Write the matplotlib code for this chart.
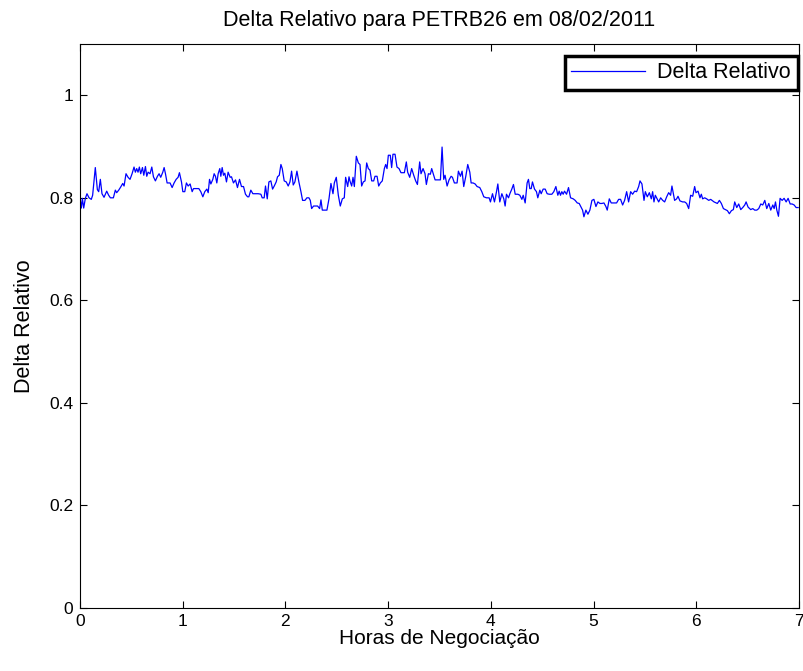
import matplotlib
matplotlib.use("Agg")
import matplotlib.pyplot as plt

plt.rcParams['font.family'] = ['Liberation Sans', 'DejaVu Sans']

hours = [0.000, 0.013, 0.023, 0.036, 0.052, 0.068, 0.088, 0.110, 0.123, 0.149, 0.169, 0.182, 0.198,
         0.214, 0.234, 0.260, 0.279, 0.296, 0.325, 0.344, 0.357, 0.377, 0.396, 0.416, 0.429,
         0.448, 0.468, 0.487, 0.507, 0.526, 0.539, 0.552, 0.565, 0.578, 0.591, 0.608, 0.621,
         0.637, 0.650, 0.663, 0.682, 0.699, 0.715, 0.734, 0.754, 0.770, 0.786, 0.806, 0.819,
         0.832, 0.848,
         0.877, 0.897, 0.916, 0.936, 0.955, 0.968, 0.988, 1.001, 1.020, 1.036, 1.053, 1.072,
         1.092, 1.105, 1.124, 1.157, 1.176, 1.196, 1.215, 1.235, 1.248, 1.261, 1.274, 1.293,
         1.306, 1.319, 1.332, 1.345, 1.361, 1.371, 1.384, 1.397, 1.410, 1.426, 1.442, 1.462,
         1.475, 1.494, 1.514, 1.533, 1.553, 1.572, 1.592, 1.611, 1.631, 1.644, 1.663, 1.683,
         1.735,
         1.761, 1.774, 1.793, 1.806, 1.823, 1.839, 1.858, 1.875, 1.891, 1.910, 1.923, 1.940,
         1.956, 1.969, 1.988, 2.008, 2.027, 2.044, 2.060, 2.076, 2.092, 2.112, 2.131, 2.151,
         2.167, 2.190, 2.209, 2.229, 2.242, 2.255, 2.274, 2.294, 2.313, 2.333, 2.346, 2.359,
         2.385, 2.404, 2.424, 2.443, 2.463, 2.476, 2.495, 2.515, 2.534, 2.554, 2.573, 2.586,
         2.606, 2.619,
         2.628, 2.645, 2.658, 2.671, 2.690, 2.710, 2.726, 2.742, 2.758, 2.775, 2.791, 2.807,
         2.823, 2.840, 2.859, 2.872, 2.892, 2.908, 2.924, 2.943, 2.963, 2.976, 2.989, 3.002,
         3.021, 3.034, 3.047, 3.067, 3.086, 3.106, 3.125, 3.158, 3.177, 3.190, 3.210, 3.229,
         3.249, 3.268, 3.285, 3.307, 3.320, 3.340, 3.359, 3.372, 3.392, 3.411, 3.424, 3.444,
         3.457, 3.496,
         3.509, 3.525, 3.541, 3.554, 3.574, 3.593, 3.613, 3.626, 3.645, 3.671, 3.684, 3.704,
         3.720, 3.736, 3.756, 3.775, 3.795, 3.808, 3.827, 3.847, 3.866, 3.892, 3.912, 3.931,
         3.957, 3.983, 3.996, 4.016, 4.035, 4.055, 4.068, 4.087, 4.107, 4.126, 4.139, 4.152,
         4.172, 4.185, 4.204, 4.220, 4.237, 4.263, 4.282, 4.302, 4.315, 4.334, 4.353, 4.366,
         4.379,
         4.393, 4.405, 4.425, 4.444, 4.457, 4.477, 4.490, 4.509, 4.529, 4.548, 4.568, 4.594,
         4.613, 4.633, 4.652, 4.665, 4.678, 4.691, 4.704, 4.717, 4.737, 4.756, 4.776, 4.802,
         4.821, 4.841, 4.860, 4.873, 4.893, 4.906, 4.925, 4.945, 4.964, 4.984, 5.003, 5.023,
         5.042, 5.062, 5.081, 5.101, 5.120, 5.133, 5.153, 5.172, 5.198, 5.224, 5.244, 5.263,
         5.283, 5.302, 5.322, 5.341, 5.361, 5.380, 5.400, 5.419, 5.439, 5.452, 5.471, 5.491,
         5.504, 5.523, 5.543, 5.562, 5.575, 5.588, 5.601, 5.621, 5.634, 5.653, 5.673, 5.692,
         5.712, 5.731, 5.750, 5.763, 5.777, 5.789, 5.809, 5.822, 5.841, 5.867, 5.887, 5.906,
         5.926, 5.945, 5.965, 5.984, 5.997, 6.017, 6.036, 6.049, 6.062, 6.082, 6.101, 6.121,
         6.140,
         6.173, 6.205, 6.225, 6.244, 6.264, 6.283, 6.303, 6.322, 6.342, 6.361, 6.374, 6.394,
         6.413, 6.433, 6.452, 6.472, 6.485, 6.504, 6.530, 6.550, 6.569, 6.589, 6.608, 6.628,
         6.647, 6.667, 6.686, 6.706, 6.725, 6.745, 6.758, 6.771, 6.784, 6.800, 6.816, 6.836,
         6.855, 6.875, 6.894, 6.914, 6.933, 6.953, 6.972, 6.992]

delta = [0.800, 0.780, 0.799, 0.780, 0.799, 0.808, 0.800, 0.797, 0.805, 0.859, 0.816, 0.812, 0.836,
         0.808, 0.801, 0.813, 0.805, 0.800, 0.800, 0.815, 0.810, 0.815, 0.821, 0.828, 0.823,
         0.847, 0.840, 0.836, 0.847, 0.860, 0.850, 0.857, 0.850, 0.860, 0.847, 0.859, 0.844,
         0.861, 0.842, 0.850, 0.847, 0.860, 0.841, 0.833, 0.842, 0.847, 0.840, 0.850, 0.859,
         0.847, 0.829,
         0.829, 0.820, 0.829, 0.836, 0.840, 0.849, 0.831, 0.812, 0.812, 0.829, 0.823, 0.827,
         0.812, 0.818, 0.818, 0.818, 0.812, 0.802, 0.812, 0.817, 0.810, 0.836, 0.827, 0.836,
         0.847, 0.842, 0.829, 0.847, 0.857, 0.842, 0.859, 0.844, 0.848, 0.831, 0.850, 0.840,
         0.841, 0.829, 0.835, 0.820, 0.836, 0.822, 0.822, 0.807, 0.802, 0.802, 0.815, 0.808,
         0.808,
         0.807, 0.800, 0.800, 0.823, 0.798, 0.831, 0.833, 0.817, 0.823, 0.831, 0.841, 0.844,
         0.865, 0.857, 0.833, 0.831, 0.823, 0.831, 0.852, 0.825, 0.831, 0.852, 0.831, 0.812,
         0.795, 0.795, 0.800, 0.800, 0.795, 0.779, 0.784, 0.784, 0.784, 0.779, 0.796, 0.776,
         0.776, 0.776, 0.798, 0.828, 0.808, 0.829, 0.840, 0.805, 0.784, 0.798, 0.800, 0.840,
         0.822, 0.841,
         0.833, 0.823, 0.840, 0.822, 0.881, 0.868, 0.865, 0.823, 0.831, 0.833, 0.868, 0.857,
         0.854, 0.833, 0.833, 0.842, 0.842, 0.823, 0.829, 0.833, 0.857, 0.865, 0.857, 0.883,
         0.883, 0.859, 0.885, 0.885, 0.860, 0.857, 0.849, 0.849, 0.870, 0.850, 0.840, 0.857,
         0.844, 0.833, 0.826, 0.870, 0.847, 0.857, 0.847, 0.826, 0.847, 0.846, 0.857, 0.844,
         0.835, 0.835,
         0.835, 0.899, 0.836, 0.844, 0.823, 0.835, 0.842, 0.840, 0.829, 0.829, 0.852, 0.842,
         0.852, 0.822, 0.842, 0.865, 0.850, 0.829, 0.829, 0.827, 0.822, 0.820, 0.812, 0.802,
         0.800, 0.800, 0.792, 0.808, 0.792, 0.812, 0.827, 0.792, 0.808, 0.798, 0.784, 0.807,
         0.800, 0.808, 0.817, 0.826, 0.807, 0.807, 0.805, 0.797, 0.805, 0.790, 0.829, 0.836,
         0.818,
         0.818, 0.831, 0.817, 0.812, 0.800, 0.815, 0.808, 0.817, 0.817, 0.808, 0.807, 0.807,
         0.812, 0.822, 0.805, 0.813, 0.805, 0.812, 0.807, 0.813, 0.807, 0.820, 0.800, 0.798,
         0.795, 0.790, 0.789, 0.784, 0.776, 0.763, 0.776, 0.768, 0.776, 0.795, 0.797, 0.783,
         0.792, 0.789, 0.789, 0.790, 0.783, 0.776, 0.798, 0.790, 0.790, 0.790, 0.797, 0.797,
         0.786, 0.795, 0.812, 0.792, 0.812, 0.807, 0.813, 0.812, 0.822, 0.833, 0.827, 0.795,
         0.812, 0.802, 0.810, 0.798, 0.812, 0.792, 0.805, 0.797, 0.792, 0.800, 0.795, 0.792,
         0.802, 0.810, 0.805, 0.823, 0.808, 0.795, 0.798, 0.803, 0.794, 0.792, 0.792, 0.789,
         0.779, 0.805, 0.803, 0.822, 0.810, 0.813, 0.800, 0.807, 0.798, 0.800, 0.798, 0.795,
         0.797,
         0.792, 0.789, 0.795, 0.789, 0.779, 0.777, 0.775, 0.769, 0.775, 0.777, 0.792, 0.781,
         0.788, 0.777, 0.781, 0.786, 0.792, 0.782, 0.777, 0.779, 0.776, 0.776, 0.779, 0.788,
         0.786, 0.795, 0.779, 0.789, 0.776, 0.786, 0.779, 0.792, 0.776, 0.764, 0.799, 0.795,
         0.799, 0.792, 0.799, 0.788, 0.788, 0.786, 0.781, 0.781]

x_ticks = [0, 1, 2, 3, 4, 5, 6, 7]
y_ticks = [0, 0.2, 0.4, 0.6, 0.8, 1.0]
y_tick_labels = ['0', '0.2', '0.4', '0.6', '0.8', '1']

fig = plt.figure(figsize=(8.04, 6.71), dpi=100)
ax = fig.add_axes([80/804, 1 - 608/671, (799 - 80)/804, (608 - 44)/671])

ax.plot(hours, delta, color=(0, 0, 1), linewidth=0.9, label='Delta Relativo')

ax.set_xlim(0, 7)
ax.set_ylim(0, 1.1)
ax.set_xticks(x_ticks)
ax.set_yticks(y_ticks)
ax.set_yticklabels(y_tick_labels)
ax.tick_params(direction='in', top=True, right=True, length=5, width=0.8,
               labelsize=12.5, colors='black')
ax.tick_params(axis='x', pad=4)
ax.tick_params(axis='y', pad=5)
for s in ax.spines.values():
    s.set_linewidth(0.8)

ax.set_title('Delta Relativo para PETRB26 em 08/02/2011', fontsize=15.5, pad=13)
ax.set_xlabel('Horas de Negociação', fontsize=15, labelpad=0)
ax.set_ylabel('Delta Relativo', fontsize=15.5, labelpad=10)

leg = ax.legend(loc='upper right', bbox_to_anchor=(0.998, 1 - 12/564), fontsize=15.5,
                frameon=True, fancybox=False, framealpha=1.0, borderaxespad=0.0,
                handlelength=3.4, borderpad=0.3, handletextpad=0.6)
leg.get_frame().set_edgecolor('black')
leg.get_frame().set_linewidth(2.5)

fig.savefig('out.png', dpi=100)
